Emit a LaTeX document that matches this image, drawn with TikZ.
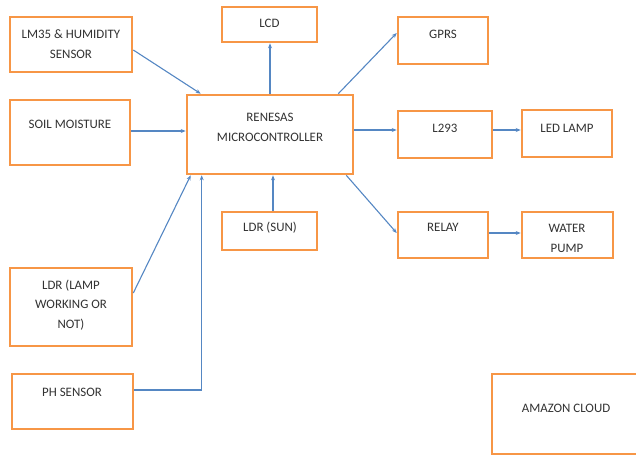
\documentclass[tikz,border=0pt]{standalone}
\usepackage{fontspec}
\setmainfont{Carlito}
\usetikzlibrary{arrows.meta,calc}
\definecolor{boxorange}{RGB}{247,150,70}
\definecolor{linkblue}{RGB}{85,135,195}
\definecolor{txtgray}{RGB}{50,50,50}
\tikzset{
  blk/.style={draw=boxorange, line width=2.6pt, fill=white, inner sep=0pt},
  lbl/.style={text=txtgray, font=\fontsize{12.9}{19.5}\selectfont, align=center, inner sep=0pt},
  link/.style={draw=linkblue, line width=1.1pt, -{Stealth[length=5pt,width=4pt]}}
}
\begin{document}
\begin{tikzpicture}[x=1pt,y=-1pt]
\useasboundingbox (0,0) rectangle (636,456);
\begin{scope}
\clip (0,0) rectangle (636,456);
% boxes
\node[blk, minimum width=122pt, minimum height=55pt] (lm) at (71,44.5) {};
\node[blk, minimum width=120pt, minimum height=65pt] (soil) at (70,132.5) {};
\node[blk, minimum width=95pt, minimum height=35pt] (lcd) at (269.5,24.5) {};
\node[blk, minimum width=166pt, minimum height=79pt] (mc) at (270,134.5) {};
\node[blk, minimum width=90pt, minimum height=47pt] (gprs) at (443,40.5) {};
\node[blk, minimum width=94pt, minimum height=47pt] (l293) at (445,134.5) {};
\node[blk, minimum width=90pt, minimum height=47pt] (led) at (567,133.5) {};
\node[blk, minimum width=95pt, minimum height=38pt] (ldrsun) at (269.5,231) {};
\node[blk, minimum width=122pt, minimum height=78pt] (ldrlamp) at (71,307) {};
\node[blk, minimum width=121pt, minimum height=55pt] (ph) at (72.5,401.5) {};
\node[blk, minimum width=90pt, minimum height=46pt] (relay) at (443,235) {};
\node[blk, minimum width=91pt, minimum height=46pt] (pump) at (567.5,235) {};
\node[blk, minimum width=158pt, minimum height=80pt] (cloud) at (571,414) {};
\end{scope}
% texts
\node[lbl] (lmt) at (71,44) {LM35 \& HUMIDITY\\SENSOR};
\node[lbl] (soilt) at (70,124) {SOIL MOISTURE};
\node[lbl] (lcdt) at (269.5,23) {LCD};
\node[lbl] (mct) at (270,127.5) {RENESAS\\MICROCONTROLLER};
\node[lbl] (gprst) at (443,34) {GPRS};
\node[lbl] (l293t) at (445,128) {L293};
\node[lbl] (ledt) at (567,128) {LED LAMP};
\node[lbl] (ldrsunt) at (270,228) {LDR (SUN)};
\node[lbl] (ldrlampt) at (71,305) {LDR (LAMP\\WORKING OR\\NOT)};
\node[lbl] (pht) at (72,392) {PH SENSOR};
\node[lbl] (relayt) at (443,227) {RELAY};
\node[lbl] (pumpt) at (567,238.5) {WATER\\PUMP};
\node[lbl] (cloudt) at (566,408) {AMAZON CLOUD};
% connectors
\draw[link] ([yshift=-5.5pt]lm.east) -- ([xshift=15pt]mc.north west);
\draw[link] ([yshift=1.5pt]soil.east) -- ([yshift=1.5pt]soil.east -| mc.west);
\draw[link] (mc.north) -- (mc.north |- lcd.south);
\draw[link] ([xshift=-16pt]mc.north east) -- ([yshift=7.5pt]gprs.west);
\draw[link] ([yshift=4.5pt]mc.east) -- ([yshift=4.5pt]mc.east -| l293.west);
\draw[link] ([yshift=4.5pt]l293.east) -- ([yshift=4.5pt]l293.east -| led.west);
\draw[link] ([xshift=-8pt]mc.south east) -- ([yshift=2pt]relay.west);
\draw[link] ([yshift=2pt]relay.east) -- ([yshift=2pt]relay.east -| pump.west);
\draw[link] ([xshift=3.5pt]ldrsun.north) -- ([xshift=3.5pt]ldrsun.north |- mc.south);
\draw[link] ([yshift=14pt]ldrlamp.east) -- ([xshift=5pt]mc.south west);
\draw[link] ([yshift=11.5pt]ph.east) -| ([xshift=16pt]mc.south west);
\end{tikzpicture}
\end{document}
